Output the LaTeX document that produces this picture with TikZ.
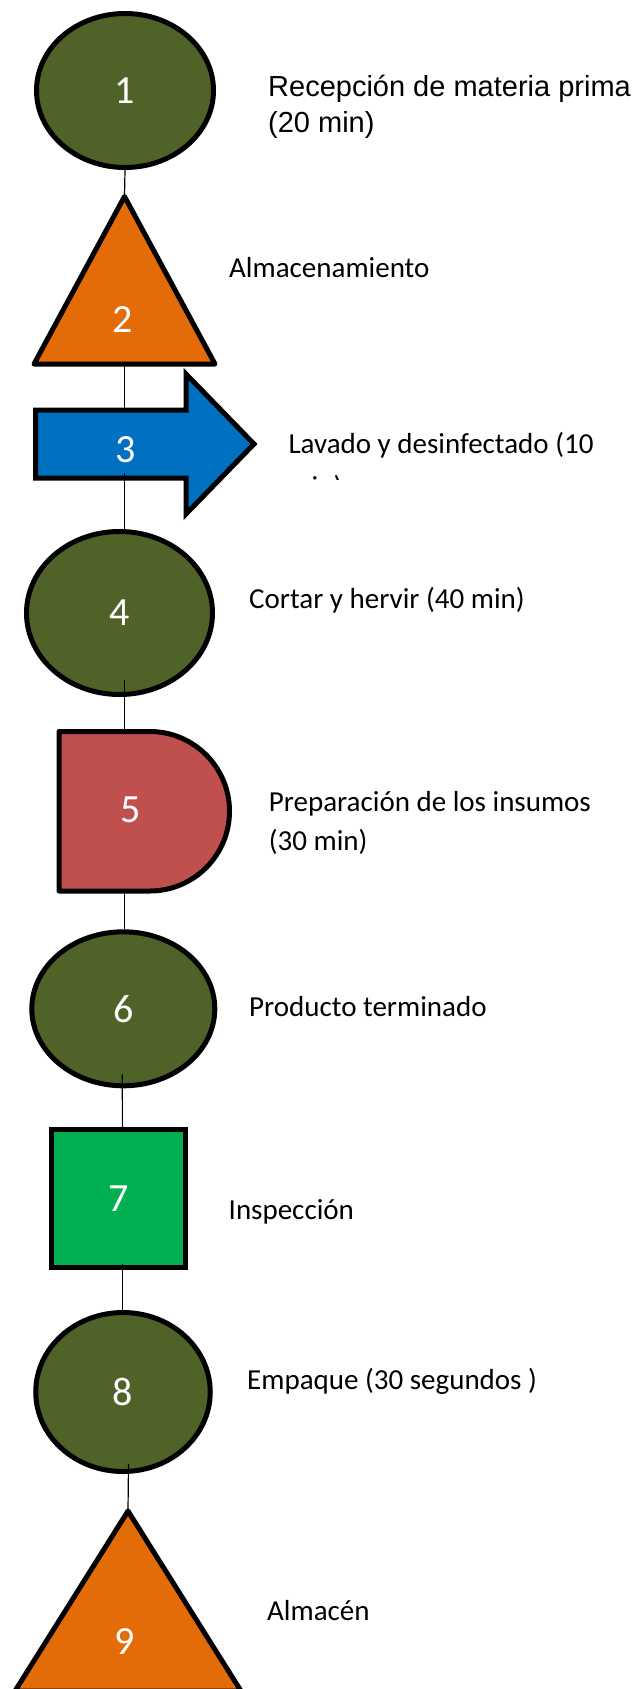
\documentclass[tikz,border=0pt]{standalone}
\usepackage{fontspec}
\setmainfont{Carlito}
\newfontfamily\arialfont{Liberation Sans}
\usepackage{tikz}
\usetikzlibrary{shapes}
\usetikzlibrary{positioning}
\definecolor{opgreen}{HTML}{4F6228}
\definecolor{storeorange}{HTML}{E36C09}
\definecolor{movblue}{HTML}{0070C0}
\definecolor{delayred}{HTML}{C0504D}
\definecolor{inspgreen}{HTML}{00B050}

\begin{document}
\begin{tikzpicture}[
  x=1pt, y=-1pt,
  shapeline/.style={draw=black, line width=5pt},
  opcirc/.style={ellipse, shapeline, fill=opgreen, text=white, inner sep=0pt, font=\fontsize{40}{48}\selectfont},
  opnum/.style={text=white, inner sep=0pt, font=\fontsize{40}{48}\selectfont},
  oplabel/.style={anchor=base west, inner sep=0pt, font=\fontsize{29}{35}\selectfont},
  conn/.style={draw=black, line width=1.2pt}
]
\useasboundingbox (0,0) rectangle (637,1689);
\clip (0,0) rectangle (637,1689);

\node[opcirc, minimum width=177pt, minimum height=154pt] (c1) at (125,90.5) {1};

\draw[shapeline, line join=round, fill=storeorange] (124.5,196.5) coordinate (t2top) -- (215,364) -- (34,364) -- cycle;
\coordinate (t2base) at (124.5,364);
\node[opnum] (n2) at (123,320) {2};

\draw[shapeline, fill=movblue] (35.5,410) -- (186,410) -- (186,374) -- (254,444) -- (186,514) -- (186,478) -- (35.5,478) -- cycle;
\coordinate (a3top) at (124.5,410);
\coordinate (a3bot) at (124.5,478);
\node[opnum] (n3) at (126,450) {3};

\node[opcirc, minimum width=186pt, minimum height=163pt] (c4) at (119.5,613) {4};

\draw[shapeline, line join=round, fill=delayred] (59,731.5) -- (149.75,731.5) arc[start angle=90, end angle=-90, radius=79.75pt] -- (59,891) -- cycle;
\coordinate (d5top) at (124.5,731.5);
\coordinate (d5bot) at (124.5,891);
\node[opnum] (n5) at (131,810) {5};

\node[opcirc, minimum width=183pt, minimum height=154pt] (c6) at (123.3,1008.8) {6};

\node[rectangle, shapeline, fill=inspgreen, text=white, inner sep=0pt, font=\fontsize{40}{48}\selectfont,
  minimum width=134pt, minimum height=138.5pt] (s7) at (118.4,1198.7) {7};

\node[opcirc, minimum width=174.5pt, minimum height=159pt] (c8) at (123,1392) {8};

\draw[shapeline, line join=round, fill=storeorange] (128,1511) coordinate (t9top) -- (241,1691) -- (15,1691) -- cycle;
\node[opnum] (n9) at (125,1642) {9};

\draw[conn] (c1.south) -- (t2top);
\draw[conn] (t2base) -- (a3top);
\draw[conn] ([yshift=5pt]a3bot) -- ([xshift=5pt]c4.north);
\draw[conn] ([xshift=5pt,yshift=17pt]c4.south) -- (d5top);
\draw[conn] (d5bot) -- ([xshift=1.2pt]c6.north);
\draw[conn] ([xshift=-1pt,yshift=14pt]c6.south) -- ([xshift=4pt]s7.north);
\draw[conn] ([xshift=4pt,yshift=6pt]s7.south) -- ([xshift=-0.6pt]c8.north);
\draw[conn] ([xshift=5.5pt,yshift=10pt]c8.south) -- (t9top);

\node[oplabel, font=\arialfont\fontsize{29}{35}\selectfont] (l1) at (268,96) {Recepción de materia prima};
\node[oplabel, font=\arialfont\fontsize{29}{35}\selectfont] (l1b) at (268,132.5) {(20 min)};
\node[oplabel] (l2) at (229,277) {Almacenamiento};
\node[oplabel] (l3) at (288.3,453.3) {Lavado y desinfectado (10};
\begin{scope}
  \clip (250,400) rectangle (637,479);
  \node[oplabel] (l3b) at (288.3,496) {min)};
\end{scope}
\node[oplabel] (l4) at (249,608) {Cortar y hervir (40 min)};
\node[oplabel] (l5) at (268.7,811) {Preparación de los insumos};
\node[oplabel] (l5b) at (268.7,850) {(30 min)};
\node[oplabel] (l6) at (249,1016.7) {Producto terminado};
\node[oplabel] (l7) at (228.5,1219.5) {Inspección};
\node[oplabel] (l8) at (247,1389.5) {Empaque (30 segundos )};
\node[oplabel] (l9) at (267,1620.7) {Almacén};

\end{tikzpicture}
\end{document}
